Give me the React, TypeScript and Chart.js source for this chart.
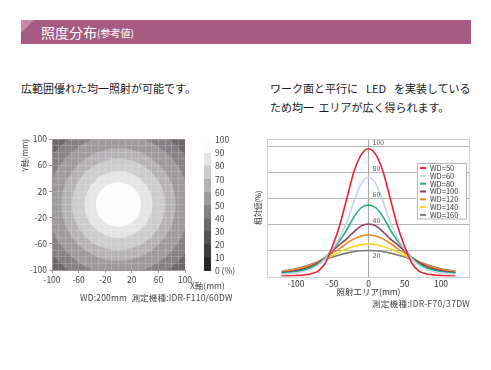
import { useEffect, useRef } from "react";
import { Chart, registerables } from "chart.js";

Chart.register(...registerables);

const FONT = '"Noto Sans CJK JP", "Noto Sans", sans-serif';

// ---------- Left: illuminance map (WD 200mm) ----------
const mapTickValues = [-100, -60, -20, 20, 60, 100];
const mapGridValues = [-100, -90, -80, -70, -60, -50, -40, -30, -20, -10, 0, 10, 20, 30, 40, 50, 60, 70, 80, 90, 100];
// contour bands: lower level (%) and outer radius (mm) of each band
const bandLevels = [30, 40, 50, 60, 70, 80, 90];
const bandOuterRadius = [150, 125, 107, 86, 70, 51, 34];

// colour scale
const scaleLevels = [0, 10, 20, 30, 40, 50, 60, 70, 80, 90];
const scaleColors = ["#2b2428", "#413a3f", "#575055", "#6e686c", "#868185", "#9e9a9d", "#b6b3b6", "#cecccd", "#e6e5e6", "#fdfdfd"];
const scaleTickValues = [0, 10, 20, 30, 40, 50, 60, 70, 80, 90, 100];
const scaleTickLabels = ["0 (%)", "10", "20", "30", "40", "50", "60", "70", "80", "90", "100"];

// ---------- Right: relative intensity profiles ----------
const profileX = [-120, -110, -100, -90, -80, -70, -60, -50, -40, -30, -20, -10, 0, 10, 20, 30, 40, 50, 60, 70, 80, 90, 100, 110, 120];
const profileTicksX = [-100, -50, 0, 50, 100];
const profileTicksY = [20, 40, 60, 80, 100];
const seriesLabels = ["WD=50", "WD=60", "WD=80", "WD=100", "WD=120", "WD=140", "WD=160"];
const seriesColors = ["#e8232d", "#c3d3ef", "#1fae6e", "#8e3b63", "#f3861f", "#fbd61e", "#7b7b7b"];
const wd50 = [0.4, 0.5, 0.8, 1.2, 2, 4, 10, 23, 39, 60, 81, 94, 98.5, 94, 81, 60, 39, 23, 10, 4, 2, 1.2, 0.8, 0.5, 0.4];
const wd60 = [1.8, 2.2, 2.8, 3.8, 5.5, 8.5, 13.5, 21, 30, 42, 58, 71.5, 76.5, 71.5, 58, 42, 30, 21, 13.5, 8.5, 5.5, 3.8, 2.8, 2.2, 1.8];
const wd80 = [2.5, 3, 3.7, 4.8, 6.5, 9.5, 14.5, 21, 27.5, 36, 46, 53, 55, 53, 46, 36, 27.5, 21, 14.5, 9.5, 6.5, 4.8, 3.7, 3, 2.5];
const wd100 = [3.1, 3.7, 4.6, 5.8, 7.8, 10.5, 14.5, 19.5, 24.5, 29, 34.5, 39, 40.5, 39, 34.5, 29, 24.5, 19.5, 14.5, 10.5, 7.8, 5.8, 4.6, 3.7, 3.1];
const wd120 = [3.6, 4.2, 5.2, 6.6, 8.6, 11.3, 14.5, 18, 21.5, 25.5, 29, 31.3, 32, 31.3, 29, 25.5, 21.5, 18, 14.5, 11.3, 8.6, 6.6, 5.2, 4.2, 3.6];
const wd140 = [3.8, 4.4, 5.4, 6.8, 8.6, 10.9, 13.5, 16.2, 18.8, 21.2, 23.2, 24.6, 25, 24.6, 23.2, 21.2, 18.8, 16.2, 13.5, 10.9, 8.6, 6.8, 5.4, 4.4, 3.8];
const wd160 = [4.2, 5, 6, 7.5, 9.2, 11.2, 13.2, 15, 16.6, 18, 19.1, 19.8, 20, 19.8, 19.1, 18, 16.6, 15, 13.2, 11.2, 9.2, 7.5, 6, 5, 4.2];
const seriesValues = [wd50, wd60, wd80, wd100, wd120, wd140, wd160];

const mapBandsPlugin = {
  id: "mapBands",
  beforeDraw(chart: any) {
    const { ctx, chartArea, scales } = chart;
    const xs = scales.x;
    const ys = scales.y;
    const cx = xs.getPixelForValue(0);
    const cy = ys.getPixelForValue(0);
    ctx.save();
    ctx.beginPath();
    ctx.rect(chartArea.left, chartArea.top, chartArea.right - chartArea.left, chartArea.bottom - chartArea.top);
    ctx.clip();
    bandLevels.forEach((lv, i) => {
      const r = bandOuterRadius[i];
      const rx = Math.abs(xs.getPixelForValue(r) - cx);
      const ry = Math.abs(ys.getPixelForValue(r) - cy);
      ctx.fillStyle = scaleColors[scaleLevels.indexOf(lv)];
      ctx.beginPath();
      ctx.ellipse(cx, cy, rx, ry, 0, 0, Math.PI * 2);
      ctx.fill();
    });
    ctx.restore();
  },
};

const framePlugin = {
  id: "frame",
  beforeDatasetsDraw(chart: any) {
    const { ctx, chartArea } = chart;
    ctx.save();
    ctx.strokeStyle = "#cfcfcf";
    ctx.lineWidth = 1;
    ctx.strokeRect(
      Math.round(chartArea.left) + 0.5,
      Math.round(chartArea.top) + 0.5,
      Math.round(chartArea.right - chartArea.left) - 1,
      Math.round(chartArea.bottom - chartArea.top)
    );
    ctx.restore();
  },
};

const yLabelPlugin = {
  id: "yLabels",
  afterDraw(chart: any) {
    const { ctx, scales } = chart;
    const x0 = scales.x.getPixelForValue(0);
    ctx.save();
    ctx.font = `7px ${FONT}`;
    ctx.fillStyle = "#555";
    ctx.textAlign = "left";
    ctx.textBaseline = "middle";
    profileTicksY.forEach((v) => {
      const y = scales.y.getPixelForValue(v);
      const above = v !== profileTicksY[0];
      ctx.fillText(String(v), x0 + 4, above ? y - 4 : y + 5);
    });
    ctx.restore();
  },
};

const legendBoxPlugin = {
  id: "legendBox",
  afterDatasetsDraw(chart: any) {
    const { ctx, chartArea } = chart;
    const boxW = 50;
    const boxH = 56.5;
    const rowH = 7.8;
    const x0 = chartArea.right - 53.5;
    const y0 = chartArea.top + 23.5;
    ctx.save();
    ctx.fillStyle = "#fff";
    ctx.fillRect(x0, y0, boxW, boxH);
    ctx.strokeStyle = "#b4b4b4";
    ctx.lineWidth = 1;
    ctx.strokeRect(Math.round(x0) + 0.5, Math.round(y0) + 0.5, boxW - 1, boxH - 1);
    ctx.font = `7.5px ${FONT}`;
    ctx.textBaseline = "middle";
    chart.data.datasets.forEach((ds: any, i: number) => {
      const y = y0 + 5.6 + i * rowH;
      ctx.strokeStyle = ds.borderColor;
      ctx.lineWidth = 2;
      ctx.beginPath();
      ctx.moveTo(x0 + 3.5, y);
      ctx.lineTo(x0 + 9.5, y);
      ctx.stroke();
      ctx.fillStyle = "#333";
      ctx.fillText(ds.label, x0 + 13.5, y);
    });
    ctx.restore();
  },
};

export default function App() {
  const mapRef = useRef<HTMLCanvasElement>(null);
  const barRef = useRef<HTMLCanvasElement>(null);
  const profRef = useRef<HTMLCanvasElement>(null);

  useEffect(() => {
    const charts: Chart[] = [];

    charts.push(
      new Chart(mapRef.current!, {
        type: "scatter",
        data: { datasets: [{ data: [] }] },
        options: {
          animation: false,
          responsive: false,
          events: [],
          layout: { padding: { left: 0, right: 15, top: 9, bottom: 4 } },
          plugins: { legend: { display: false }, tooltip: { enabled: false } },
          scales: {
            x: {
              type: "linear",
              min: -100,
              max: 100,
              afterBuildTicks: (s: any) => {
                s.ticks = mapGridValues.map((v) => ({ value: v }));
              },
              afterFit: (s: any) => {
                s.height = 16;
              },
              ticks: {
                autoSkip: false,
                maxRotation: 0,
                padding: 2,
                color: "#444",
                font: { family: FONT, size: 8.5 },
                callback: (v: any) => (mapTickValues.includes(Number(v)) ? String(v) : ""),
              },
              grid: {
                color: "rgba(255,255,255,0.18)",
                tickLength: 3,
                tickColor: (c: any) => (c.tick && mapTickValues.includes(c.tick.value) ? "#999" : "rgba(0,0,0,0)"),
              },
              border: { color: "#999" },
            },
            y: {
              type: "linear",
              min: -100,
              max: 100,
              afterBuildTicks: (s: any) => {
                s.ticks = mapGridValues.map((v) => ({ value: v }));
              },
              afterFit: (s: any) => {
                s.width = 52;
              },
              ticks: {
                autoSkip: false,
                padding: 2,
                color: "#444",
                font: { family: FONT, size: 8.5 },
                callback: (v: any) => (mapTickValues.includes(Number(v)) ? String(v) : ""),
              },
              grid: {
                color: "rgba(255,255,255,0.18)",
                tickLength: 3,
                tickColor: (c: any) => (c.tick && mapTickValues.includes(c.tick.value) ? "#999" : "rgba(0,0,0,0)"),
              },
              border: { color: "#999" },
              title: {
                display: true,
                text: "Y軸(mm)",
                align: "end",
                color: "#444",
                font: { family: FONT, size: 8 },
                padding: { top: 20, bottom: 0 },
              },
            },
          },
        },
        plugins: [mapBandsPlugin],
      } as any)
    );

    charts.push(
      new Chart(barRef.current!, {
        type: "bar",
        data: {
          labels: [""],
          datasets: scaleLevels.map((lv, i) => ({
            label: String(lv),
            data: [[lv, scaleLevels[i + 1] ?? 100]],
            backgroundColor: scaleColors[i],
            borderWidth: 0,
            grouped: false,
            barPercentage: 1,
            categoryPercentage: 1,
          })),
        },
        options: {
          animation: false,
          responsive: false,
          events: [],
          layout: { padding: { left: 9, right: 0, top: 10, bottom: 9 } },
          plugins: { legend: { display: false }, tooltip: { enabled: false } },
          scales: {
            x: { display: false },
            y: {
              position: "right",
              min: 0,
              max: 100,
              afterBuildTicks: (s: any) => {
                s.ticks = scaleTickValues.map((v) => ({ value: v }));
              },
              afterFit: (s: any) => {
                s.width = 39;
              },
              ticks: {
                autoSkip: false,
                padding: 4,
                color: "#444",
                font: { family: FONT, size: 8.5 },
                callback: (_v: any, i: number) => scaleTickLabels[i],
              },
              grid: { display: false, drawTicks: false },
              border: { display: false },
            },
          },
        },
      } as any)
    );

    charts.push(
      new Chart(profRef.current!, {
        type: "line",
        data: {
          datasets: seriesLabels.map((label, i) => ({
            label,
            data: profileX.map((x, j) => ({ x, y: seriesValues[i][j] })),
            borderColor: seriesColors[i],
            backgroundColor: seriesColors[i],
            borderWidth: 1.6,
            pointRadius: 0,
            cubicInterpolationMode: "monotone",
            fill: false,
          })),
        },
        options: {
          animation: false,
          responsive: false,
          events: [],
          layout: { padding: { left: 0, right: 21, top: 14, bottom: 18.5 } },
          plugins: { legend: { display: false }, tooltip: { enabled: false } },
          scales: {
            x: {
              type: "linear",
              min: -140,
              max: 140,
              afterBuildTicks: (s: any) => {
                s.ticks = profileTicksX.map((v) => ({ value: v }));
              },
              afterFit: (s: any) => {
                s.height = 20;
              },
              ticks: {
                autoSkip: false,
                maxRotation: 0,
                padding: 2,
                color: "#333",
                font: { family: FONT, size: 8.5 },
              },
              grid: {
                drawTicks: false,
                color: (c: any) => (c.tick && c.tick.value === 0 ? "#a8a8a8" : "rgba(0,0,0,0)"),
              },
              border: { display: false },
              title: {
                display: true,
                text: "照射エリア(mm)",
                color: "#333",
                font: { family: FONT, size: 8.5 },
                padding: { top: 0, bottom: 0 },
              },
            },
            y: {
              min: 0,
              max: 106,
              afterBuildTicks: (s: any) => {
                s.ticks = profileTicksY.map((v) => ({ value: v }));
              },
              afterFit: (s: any) => {
                s.width = 17;
              },
              ticks: { display: false },
              grid: { drawTicks: false, color: "#b4b4b4" },
              border: { display: false },
              title: {
                display: true,
                text: "相対値(%)",
                color: "#333",
                font: { family: FONT, size: 7.5 },
                padding: { top: 4, bottom: 0 },
              },
            },
          },
        },
        plugins: [framePlugin, legendBoxPlugin, yLabelPlugin],
      } as any)
    );

    return () => charts.forEach((c) => c.destroy());
  }, []);

  const abs = (l: number, t: number): any => ({ position: "absolute", left: l, top: t });

  return (
    <div
      style={{
        position: "absolute",
        left: 0,
        top: 0,
        width: 491,
        height: 370,
        background: "#fff",
        fontFamily: FONT,
        overflow: "hidden",
      }}
    >
      {/* header bar */}
      <div style={{ ...abs(21, 20), width: 450, height: 24, background: "#a65b80" }} />
      <div
        style={{
          ...abs(21, 20),
          width: 13,
          height: 13,
          background: "#c48aa6",
          clipPath: "polygon(0 0, 100% 0, 0 100%)",
        }}
      />
      <div
        style={{
          ...abs(41, 20),
          height: 24,
          display: "flex",
          alignItems: "center",
          color: "#fff",
          whiteSpace: "nowrap",
        }}
      >
        <span style={{ fontSize: 14 }}>照度分布</span>
        <span style={{ fontSize: 10 }}>(参考値)</span>
      </div>

      {/* descriptions */}
      <div style={{ ...abs(21, 83), fontSize: 11, lineHeight: "11px", color: "#1a1a1a", whiteSpace: "nowrap" }}>
        広範囲優れた均一照射が可能です。
      </div>
      <div
        style={{
          ...abs(270, 83),
          fontSize: 11,
          lineHeight: "11px",
          color: "#1a1a1a",
          whiteSpace: "nowrap",
          wordSpacing: "5.5px",
        }}
      >
        ワーク面と平行に LED を実装している
      </div>
      <div style={{ ...abs(270, 102), fontSize: 11, lineHeight: "11px", color: "#1a1a1a", whiteSpace: "nowrap", wordSpacing: "2px" }}>
        ため均一 エリアが広く得られます。
      </div>

      {/* left map */}
      <canvas ref={mapRef} width={200} height={160} style={{ ...abs(0, 130), width: 200, height: 160 }} />
      <canvas ref={barRef} width={55} height={150} style={{ ...abs(195, 130), width: 55, height: 150 }} />
      <div style={{ ...abs(190, 281), fontSize: 8.5, lineHeight: "9px", color: "#444", whiteSpace: "nowrap" }}>
        X軸(mm)
      </div>
      <div
        style={{
          ...abs(80, 292),
          fontSize: 8.5,
          lineHeight: "10px",
          color: "#444",
          whiteSpace: "nowrap",
          letterSpacing: "0.2px",
        }}
      >
        WD:200mm&nbsp;&nbsp;測定機種:IDR-F110/60DW
      </div>

      {/* right profiles */}
      <canvas ref={profRef} width={241} height={190} style={{ ...abs(250, 125), width: 241, height: 190 }} />
      <div
        style={{
          position: "absolute",
          right: 21,
          top: 298,
          fontSize: 8.5,
          lineHeight: "10px",
          color: "#444",
          whiteSpace: "nowrap",
          letterSpacing: "0.3px",
        }}
      >
        測定機種:IDR-F70/37DW
      </div>
    </div>
  );
}
